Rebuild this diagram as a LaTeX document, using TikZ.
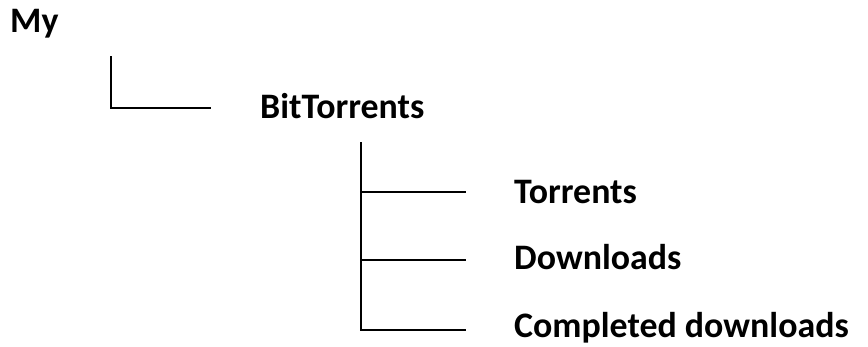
\documentclass[tikz,border=0pt]{standalone}
\usepackage{fontspec}
\setmainfont{Carlito}
\begin{document}
\begin{tikzpicture}[x=1bp,y=1bp,
  lbl/.style={anchor=base west,inner sep=0pt,font=\fontsize{36}{42}\selectfont\bfseries},
  branch/.style={draw=black,line width=1.8bp}]
\useasboundingbox (0,0) rectangle (868,346);
\node[lbl] (my) at (10,314) {My};
\node[lbl] (bt) at (260,228) {BitTorrents};
\node[lbl] (tor) at (514,143) {Torrents};
\node[lbl] (dl) at (514,77) {Downloads};
\node[lbl] (cd) at (514,9) {Completed downloads};
% first branch
\coordinate (a0) at (110.7,290);
\coordinate (a1) at (110.7,238);
\coordinate (a2) at (211,238);
\draw[branch] (a0) -- (a1) -- (a2);
% second branch
\coordinate (b0) at (360.7,204);
\coordinate (b1) at (360.7,154);
\coordinate (b2) at (360.7,86);
\coordinate (b3) at (360.7,16);
\coordinate (e1) at (466,154);
\coordinate (e2) at (466,86);
\coordinate (e3) at (466,16);
\draw[branch] (b0) -- (b3) -- (e3);
\draw[branch] (b1) -- (e1);
\draw[branch] (b2) -- (e2);
\end{tikzpicture}
\end{document}
